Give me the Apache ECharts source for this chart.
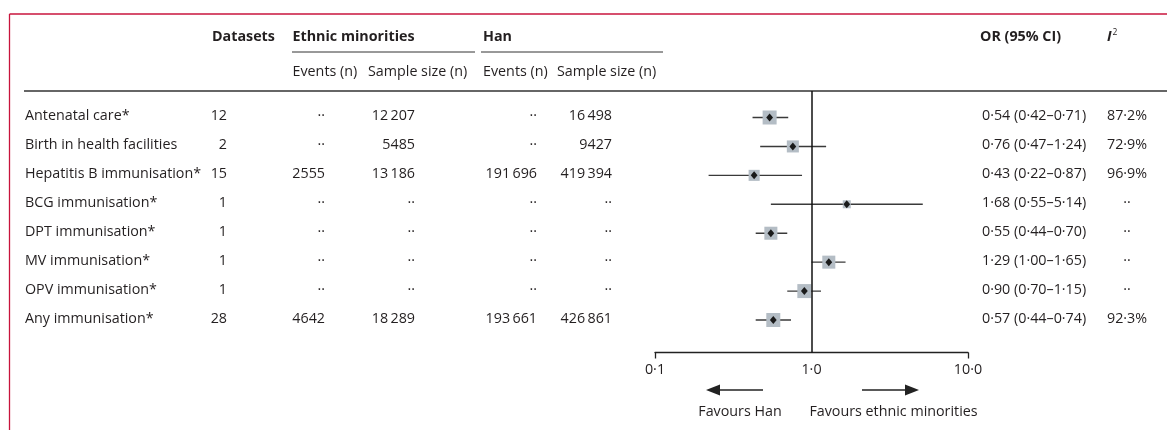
<!DOCTYPE html>
<html>
<head>
<meta charset="utf-8">
<script src="https://cdn.jsdelivr.net/npm/echarts@6/dist/echarts.min.js"></script>
<style>
html,body{margin:0;padding:0;background:#fff;}
#chart{width:1167px;height:430px;}
</style>
</head>
<body>
<div id="chart"></div>
<script>
// ---------- data ----------
const categories = ['Antenatal care*', 'Birth in health facilities', 'Hepatitis B immunisation*', 'BCG immunisation*', 'DPT immunisation*', 'MV immunisation*', 'OPV immunisation*', 'Any immunisation*'];
const datasets = ['12', '2', '15', '1', '1', '1', '1', '28'];
const ethnicEvents = ['··', '··', '2555', '··', '··', '··', '··', '4642'];
const ethnicSample = ['12\u2009207', '5485', '13\u2009186', '··', '··', '··', '··', '18\u2009289'];
const hanEvents = ['··', '··', '191\u2009696', '··', '··', '··', '··', '193\u2009661'];
const hanSample = ['16\u2009498', '9427', '419\u2009394', '··', '··', '··', '··', '426\u2009861'];
const orValue = [0.54, 0.76, 0.43, 1.68, 0.55, 1.29, 0.90, 0.57];
const ciLow = [0.42, 0.47, 0.22, 0.55, 0.44, 1.00, 0.70, 0.44];
const ciHigh = [0.71, 1.24, 0.87, 5.14, 0.70, 1.65, 1.15, 0.74];
const orLabels = ['0·54 (0·42–0·71)', '0·76 (0·47–1·24)', '0·43 (0·22–0·87)', '1·68 (0·55–5·14)', '0·55 (0·44–0·70)', '1·29 (1·00–1·65)', '0·90 (0·70–1·15)', '0·57 (0·44–0·74)'];
const i2Labels = ['87·2%', '72·9%', '96·9%', '··', '··', '··', '··', '92·3%'];
const boxWeight = [1.0, 0.86, 0.79, 0.57, 0.93, 0.93, 1.0, 1.0];
const xTickValues = [0.1, 1, 10];
const xTickLabels = ['0·1', '1·0', '10·0'];

// ---------- layout / style ----------
const FONT = '"Open Sans", "Noto Sans", sans-serif';
const FS = 14.3;
const TXT = '#231f20';
const RED = '#c8143c';
const COL = {label: 25, datasets: 227, eEv: 325, eSm: 415, hEv: 537, hSm: 612, or: 982, i2: 1127};

function txt(x, y, text, align, extra) {
  return {
    type: 'text', x: x, y: y, silent: true,
    style: Object.assign({
      text: text, fill: TXT, fontFamily: FONT, fontSize: FS,
      align: align, verticalAlign: 'middle', textAlign: align, textVerticalAlign: 'middle'
    }, extra || {})
  };
}

function tableItem(params, api) {
  const i = params.dataIndex;
  const y = api.coord([1, api.value(1)])[1] - 1.5;
  return {
    type: 'group',
    children: [
      txt(COL.label, y, categories[i], 'left'),
      txt(COL.datasets, y, datasets[i], 'right'),
      txt(COL.eEv, y, ethnicEvents[i], 'right'),
      txt(COL.eSm, y, ethnicSample[i], 'right'),
      txt(COL.hEv, y, hanEvents[i], 'right'),
      txt(COL.hSm, y, hanSample[i], 'right'),
      txt(COL.or, y, orLabels[i], 'left'),
      txt(COL.i2, y, i2Labels[i], 'center')
    ]
  };
}

function forestItem(params, api) {
  const idx = api.value(0);
  const pOr = api.coord([api.value(1), idx]);
  const pLo = api.coord([api.value(2), idx]);
  const pHi = api.coord([api.value(3), idx]);
  const s = 14 * api.value(4);
  const cx = pOr[0], cy = pOr[1];
  return {
    type: 'group',
    children: [
      {type: 'line', shape: {x1: pLo[0], y1: pLo[1], x2: pHi[0], y2: pHi[1]}, style: {stroke: '#3a3a3a', lineWidth: 1.4}},
      {type: 'rect', shape: {x: cx - s / 2, y: cy - s / 2, width: s, height: s}, style: {fill: '#b4bdc5'}},
      {type: 'polygon', shape: {points: [[cx, cy - 4], [cx + 3.4, cy], [cx, cy + 4], [cx - 3.4, cy]]}, style: {fill: '#1a1a1a'}}
    ]
  };
}

const forestData = orValue.map((v, i) => [i, v, ciLow[i], ciHigh[i], boxWeight[i]]);
const tableData = categories.map((c, i) => [1, i]);

const chart = echarts.init(document.getElementById('chart'), null, {renderer: 'canvas'});

const option = {
  animation: false,
  backgroundColor: '#fff',
  grid: {left: 655, top: 91, width: 313, height: 261.5, containLabel: false, outerBoundsMode: 'none'},
  xAxis: {
    type: 'log', logBase: 10, min: 0.1, max: 10,
    axisLine: {show: true, onZero: false, lineStyle: {color: '#222', width: 1.3}},
    axisTick: {show: true, inside: false, length: 6, customValues: [0.1, 10], lineStyle: {color: '#222', width: 1.3}},
    minorTick: {show: false},
    axisLabel: {
      customValues: xTickValues,
      margin: 10, fontFamily: FONT, fontSize: FS, color: TXT,
      formatter: function (v) {
        const k = xTickValues.findIndex(t => Math.abs(Math.log10(t) - Math.log10(v)) < 1e-6);
        return k >= 0 ? xTickLabels[k] : '';
      }
    },
    splitLine: {show: false}
  },
  yAxis: {type: 'value', inverse: true, min: -0.916, max: 8.123, show: false},
  series: [
    {
      type: 'custom', name: 'forest', renderItem: forestItem, data: forestData,
      encode: {x: [1, 2, 3], y: 0}, clip: false, silent: true,
      markLine: {
        silent: true, symbol: ['none', 'none'], label: {show: false},
        lineStyle: {color: '#111', width: 1.5, type: 'solid'},
        data: [{xAxis: 1}]
      }
    },
    {
      type: 'custom', name: 'table', renderItem: tableItem, data: tableData,
      encode: {x: 0, y: 1}, clip: false, silent: true
    }
  ],
  graphic: {
    elements: [
      // frame
      {type: 'line', silent: true, shape: {x1: 9.5, y1: 14, x2: 1167, y2: 14}, style: {stroke: RED, lineWidth: 1.3}},
      {type: 'line', silent: true, shape: {x1: 9.5, y1: 14, x2: 9.5, y2: 430}, style: {stroke: RED, lineWidth: 1.3}},
      // header rules
      {type: 'line', silent: true, shape: {x1: 292, y1: 52, x2: 475, y2: 52}, style: {stroke: '#333', lineWidth: 1}},
      {type: 'line', silent: true, shape: {x1: 481, y1: 52, x2: 663, y2: 52}, style: {stroke: '#333', lineWidth: 1}},
      {type: 'line', silent: true, shape: {x1: 24, y1: 91, x2: 1167, y2: 91}, style: {stroke: '#333', lineWidth: 1.4}},
      // header texts
      txt(212, 37, 'Datasets', 'left', {fontWeight: 'bold'}),
      txt(292.5, 37, 'Ethnic minorities', 'left', {fontWeight: 'bold'}),
      txt(483, 37, 'Han', 'left', {fontWeight: 'bold'}),
      txt(980, 37, 'OR (95% CI)', 'left', {fontWeight: 'bold'}),
      txt(1107, 37, 'I', 'left', {fontWeight: 'bold', fontStyle: 'italic'}),
      txt(1112.5, 33, '2', 'left', {fontSize: 8.5}),
      txt(292.5, 72, 'Events (n)', 'left'),
      txt(368, 72, 'Sample size (n)', 'left'),
      txt(483, 72, 'Events (n)', 'left'),
      txt(557, 72, 'Sample size (n)', 'left'),
      // direction arrows
      {type: 'line', silent: true, shape: {x1: 719, y1: 390, x2: 763, y2: 390}, style: {stroke: '#222', lineWidth: 1.5}},
      {type: 'polygon', silent: true, shape: {points: [[706, 390], [720, 384.5], [720, 395.5]]}, style: {fill: '#222'}},
      {type: 'line', silent: true, shape: {x1: 862, y1: 390, x2: 906, y2: 390}, style: {stroke: '#222', lineWidth: 1.5}},
      {type: 'polygon', silent: true, shape: {points: [[919, 390], [905, 384.5], [905, 395.5]]}, style: {fill: '#222'}},
      txt(740, 412, 'Favours Han', 'center'),
      txt(893.5, 412, 'Favours ethnic minorities', 'center')
    ]
  }
};

chart.setOption(option);
</script>
</body>
</html>
